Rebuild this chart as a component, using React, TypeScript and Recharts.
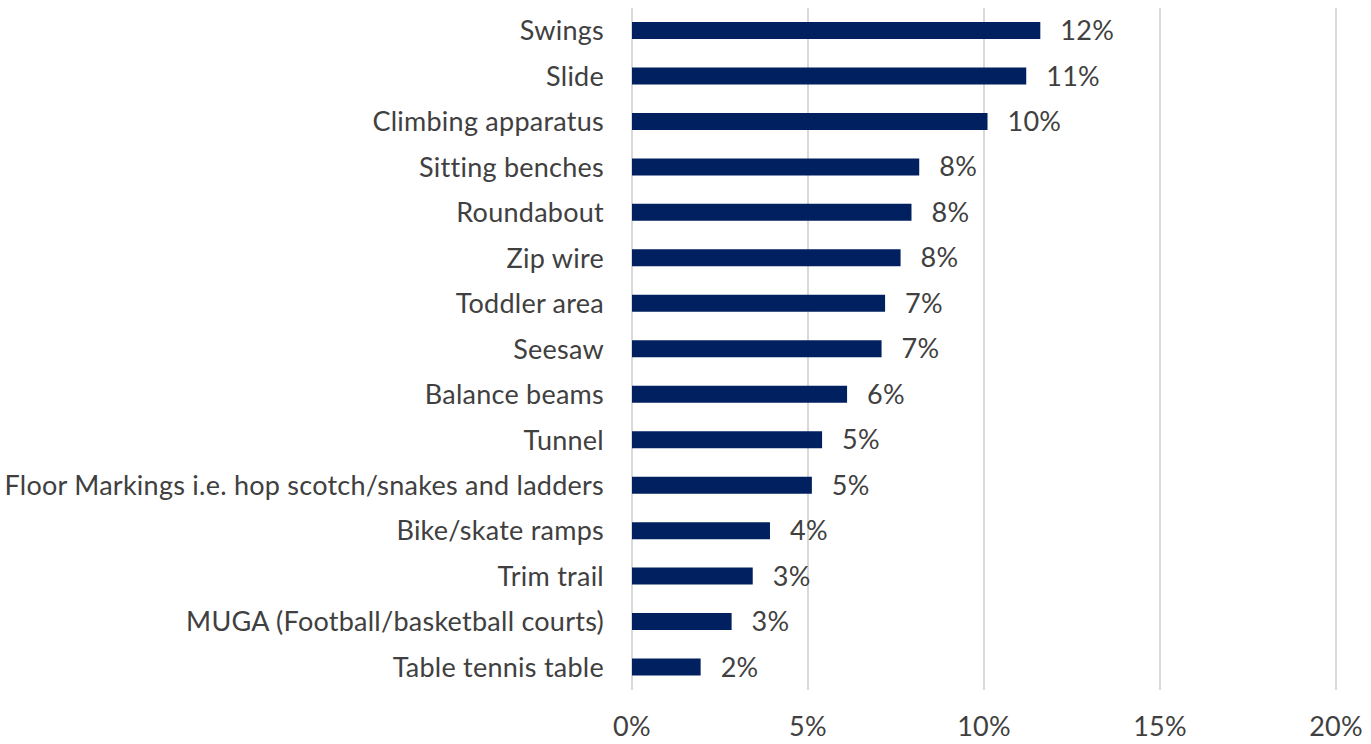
import { Bar, BarChart, CartesianGrid, LabelList, XAxis, YAxis } from 'recharts'

const CATEGORIES = [
  'Swings',
  'Slide',
  'Climbing apparatus',
  'Sitting benches',
  'Roundabout',
  'Zip wire',
  'Toddler area',
  'Seesaw',
  'Balance beams',
  'Tunnel',
  'Floor Markings i.e. hop scotch/snakes and ladders',
  'Bike/skate ramps',
  'Trim trail',
  'MUGA (Football/basketball courts)',
  'Table tennis table',
]

// share of responses, in percent
const SHARES = [11.6, 11.2, 10.1, 8.16, 7.94, 7.63, 7.19, 7.09, 6.11, 5.4, 5.11, 3.92, 3.43, 2.83, 1.95]

const X_TICKS = [0, 5, 10, 15, 20]

const TEXT = '#404040'
const FONT = 'Lato, "Open Sans", sans-serif'
const NAVY = '#002060'
const tickStyle = { fill: TEXT, fontSize: 27, fontFamily: FONT, letterSpacing: '0.25px' }

const rows = CATEGORIES.map((name, i) => ({ name, share: SHARES[i] }))

export default function App() {
  return (
    <div style={{ position: 'absolute', left: 0, top: 0, fontFamily: FONT }}>
      <BarChart
        width={1371}
        height={744}
        data={rows}
        layout="vertical"
        margin={{ top: 8, right: 35, bottom: 0, left: 0 }}
        barSize={17}
      >
        <CartesianGrid horizontal={false} stroke="#d9d9d9" strokeWidth={2} />
        <XAxis
          type="number"
          domain={[0, 20]}
          ticks={X_TICKS}
          tickFormatter={(v) => `${v}%`}
          axisLine={false}
          tickLine={false}
          tickSize={0}
          tickMargin={27}
          height={54}
          tick={tickStyle}
        />
        <YAxis
          type="category"
          dataKey="name"
          width={632}
          axisLine={false}
          tickLine={false}
          tickSize={0}
          tickMargin={28}
          interval={0}
          tick={tickStyle}
        />
        <Bar dataKey="share" fill={NAVY} isAnimationActive={false}>
          <LabelList
            dataKey="share"
            position="right"
            offset={20}
            formatter={(v: any) => `${Math.round(Number(v))}%`}
            style={tickStyle}
          />
        </Bar>
      </BarChart>
    </div>
  )
}
